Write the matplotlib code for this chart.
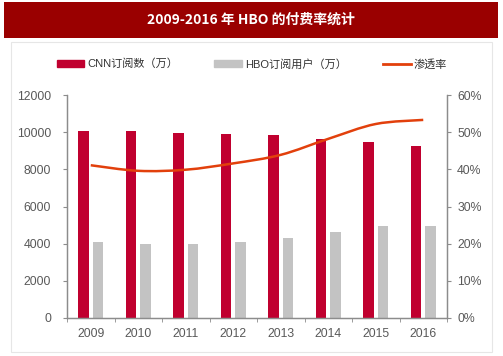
import matplotlib
matplotlib.use("Agg")
import matplotlib.pyplot as plt
import numpy as np
from matplotlib.patches import Rectangle, Patch, PathPatch
from matplotlib.lines import Line2D
from matplotlib.path import Path

plt.rcParams['font.family'] = ['Liberation Sans', 'Noto Sans CJK SC', 'DejaVu Sans']

years = ["2009", "2010", "2011", "2012", "2013", "2014", "2015", "2016"]
cnn_subs = [10050, 10060, 9960, 9920, 9870, 9640, 9460, 9280]
hbo_subs = [4100, 3980, 3980, 4100, 4330, 4620, 4940, 4940]
pen_rate = [41.1, 39.6, 39.9, 41.6, 43.9, 48.2, 52.2, 53.3]

RED = "#c0002f"
GRAY = "#c3c3c3"
LINE = "#e2400c"
TXT = "#595959"
AX = "#8c8c8c"

W, H = 503, 356
fig = plt.figure(figsize=(W / 100, H / 100), dpi=100)

# title band + frame
fig.patches.append(Rectangle((4 / W, 1 - 38 / H), 494 / W, 36 / H, transform=fig.transFigure,
                             facecolor="#9a0000", edgecolor="none"))
fig.text(251 / W, 1 - 20 / H, "2009-2016 年 HBO 的付费率统计", color="white", fontsize=10,
         fontweight="bold", ha="center", va="center", family=['Noto Sans CJK SC'])
fig.patches.append(Rectangle((11 / W, 1 - 352 / H), 481 / W, 310 / H, transform=fig.transFigure,
                             facecolor="none", edgecolor="#e6e6e6", lw=0.8))

ax = fig.add_axes([67 / W, 1 - 318 / H, 380 / W, 223 / H])
ax2 = ax.twinx()

x = np.arange(len(years))
ax.bar(x - 0.15, cnn_subs, 0.22, color=RED, zorder=2)
ax.bar(x + 0.15, hbo_subs, 0.22, color=GRAY, zorder=2)

# smoothed penetration line (Catmull-Rom as cubic bezier)
pts = np.column_stack([x, pen_rate]).astype(float)
verts = [tuple(pts[0])]
codes = [Path.MOVETO]
n = len(pts)
for i in range(n - 1):
    p0 = pts[max(i - 1, 0)]
    p1 = pts[i]
    p2 = pts[i + 1]
    p3 = pts[min(i + 2, n - 1)]
    c1 = p1 + (p2 - p0) / 6
    c2 = p2 - (p3 - p1) / 6
    verts += [tuple(c1), tuple(c2), tuple(p2)]
    codes += [Path.CURVE4] * 3
ax2.add_patch(PathPatch(Path(verts, codes), facecolor="none", edgecolor=LINE, lw=1.8, zorder=3))

ax.set_xlim(-0.5, len(years) - 0.5)
ax.set_ylim(0, 12000)
ax.set_yticks(range(0, 12001, 2000))
ax2.set_ylim(0, 60)
ax2.set_yticks(range(0, 61, 10))
ax2.set_yticklabels([f"{v}%" for v in range(0, 61, 10)])

ax.set_xticks(x)
ax.set_xticklabels(years)
ax.set_xticks(np.arange(-0.5, len(years)), minor=True)
ax.tick_params(axis="x", which="major", length=0, pad=7, labelsize=8.8, colors=TXT)
ax.tick_params(axis="x", which="minor", length=3, color=AX)
ax.tick_params(axis="y", length=3, color=AX, labelsize=8.8, labelcolor=TXT, pad=8.5)
ax2.tick_params(axis="y", length=3, color=AX, labelsize=8.8, labelcolor=TXT, pad=4.3)

for a in (ax, ax2):
    a.spines["top"].set_visible(False)
    for s in ("left", "right", "bottom"):
        a.spines[s].set_color(AX)
        a.spines[s].set_linewidth(0.9)

handles = [Patch(color=RED), Patch(color=GRAY), Line2D([], [], color=LINE, lw=2)]
labels = ["CNN订阅数（万）", "HBO订阅用户（万）", "渗透率"]
fig.legend(handles, labels, loc="center", bbox_to_anchor=(252 / W, 1 - 64 / H), ncol=3,
           frameon=False, fontsize=8, handlelength=2.5, handleheight=0.55,
           columnspacing=3.2, handletextpad=0.3, labelcolor="#333333")

fig.savefig("out.png", dpi=100, facecolor="white")
